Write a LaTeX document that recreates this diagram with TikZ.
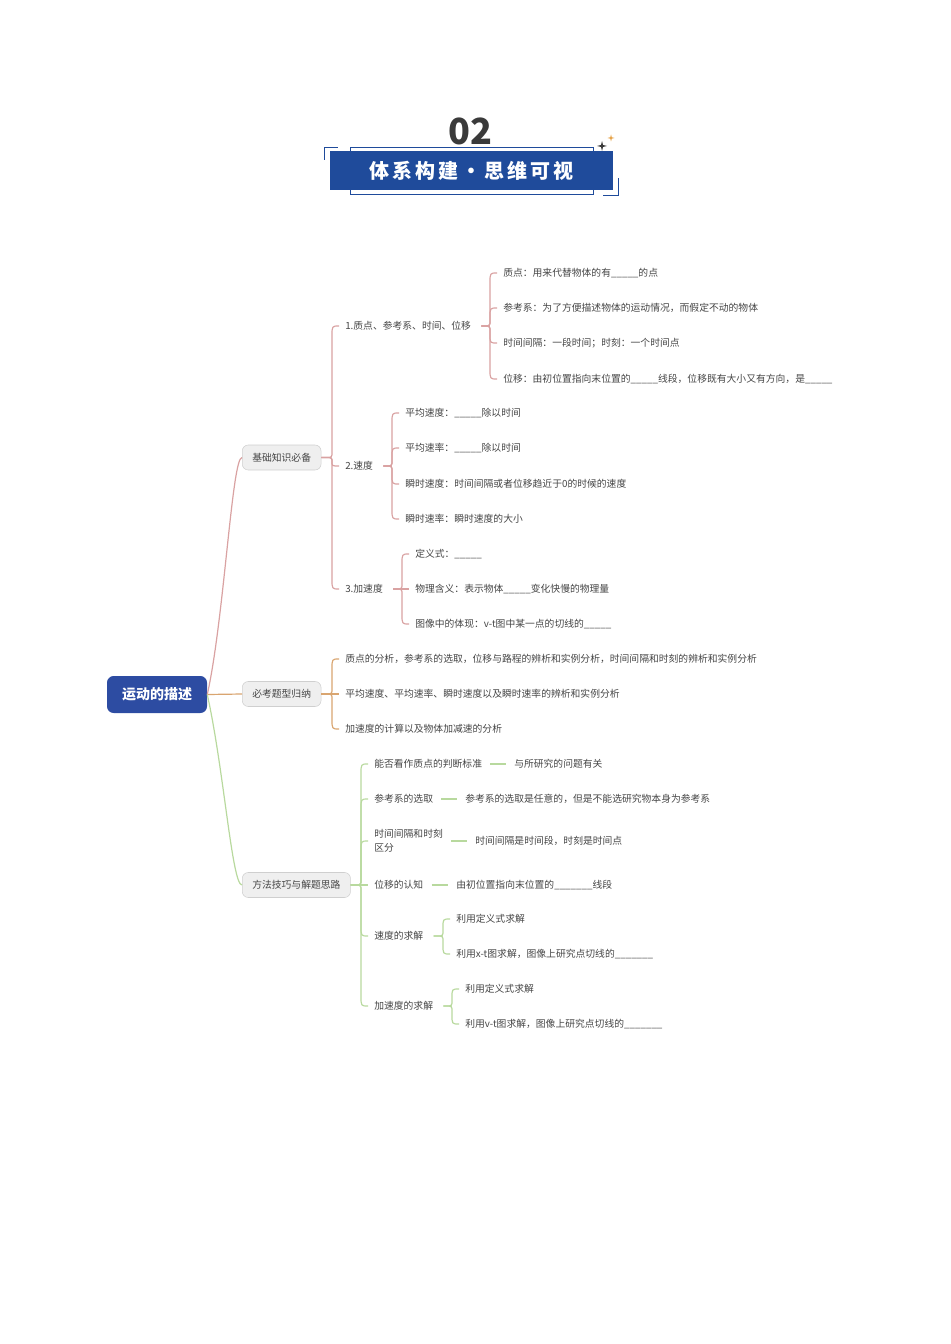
\documentclass[tikz,border=0pt]{standalone}
\usepackage{fontspec}
\setmainfont{Noto Sans CJK SC}
\usetikzlibrary{calc}
\definecolor{hdrblue}{HTML}{1F4B9B}
\definecolor{rootblue}{HTML}{2D4CA2}
\definecolor{ink}{HTML}{454545}
\definecolor{numgray}{HTML}{3A3A3A}
\definecolor{rose}{HTML}{D9A2A2}
\definecolor{tan}{HTML}{D9A570}
\definecolor{leaf}{HTML}{B8D99E}
\definecolor{boxgray}{HTML}{EFEFEF}
\definecolor{boxline}{HTML}{CFCFCF}
\definecolor{spark}{HTML}{E39B3A}

\begin{document}
\begin{tikzpicture}[
  x=0.75pt, y=-0.75pt,
  every node/.style={text=ink},
  txt/.style={anchor=west, inner sep=0pt, font=\fontsize{7.35}{10.5}\selectfont},
  topic/.style={anchor=west, draw=boxline, fill=boxgray, rounded corners=4.5pt,
                inner xsep=7.5pt, minimum height=18.75pt, font=\fontsize{7.35}{9}\selectfont},
  rootbox/.style={fill=rootblue, rounded corners=5pt, text=white, minimum width=75pt,
                  minimum height=27.75pt, font=\fontsize{10.5}{12}\selectfont\bfseries},
  titlebox/.style={fill=hdrblue, text=white, minimum width=212.25pt, minimum height=29.25pt,
                   font=\fontsize{15}{15}\selectfont\bfseries\addfontfeature{LetterSpace=15}},
  hdrline/.style={draw=hdrblue, line width=0.6pt},
  rosel/.style={draw=rose, line width=0.9pt},
  tanl/.style={draw=tan, line width=0.9pt},
  leafl/.style={draw=leaf, line width=0.9pt},
  fromtext/.style={shorten <=7.5pt},
  dashlink/.style={shorten <=6pt, shorten >=6pt},
  bracelink/.style={to path={
    let \p1=(\tikztostart), \p2=(\tikztotarget),
        \n1={((\y2>\y1)*2-1)*min(4.5,abs(\y2-\y1)/2)},
        \n2={((\y2>\y1)*2-1)*min(7.5,abs(\y2-\y1)/2)} in
    -- (\x2-14.25pt,\y1)
    .. controls (\x2-9.75pt,\y1) .. (\x2-9.75pt,\y1+\n1*1pt)
    -- (\x2-9.75pt,\y2-\n2*1pt)
    .. controls (\x2-9.75pt,\y2) .. (\x2-4.5pt,\y2)}},
]
  \useasboundingbox (0,0) rectangle (950,1344);

  % Header
  \draw[hdrline] (350,147) rectangle (593,194);
  \node[titlebox] (ttl) at (471.5,170.5) {体系构建・思维可视};
  \node[text=numgray, font=\fontsize{27}{27}\selectfont\bfseries] (num) at (470,131) {02};
  \draw[hdrline] (324,160) |- (338,147);
  \draw[hdrline] (603,195) -| (618,178);
  \fill[numgray] (602,141) -- (603,145) -- (607,146) -- (603,147) -- (602,151)
                 -- (601,147) -- (597,146) -- (601,145) -- cycle;
  \fill[spark] (611,134.5) -- (611.7,137.3) -- (614.5,138) -- (611.7,138.7) -- (611,141.5)
               -- (610.3,138.7) -- (607.5,138) -- (610.3,137.3) -- cycle;

  % Central topic and main branches
  \node[rootbox] (root) at (157,694.5) {运动的描述};
  \node[topic] (b1) at (242,457.5) {基础知识必备};
  \node[topic] (b2) at (242,694) {必考题型归纳};
  \node[topic] (b3) at (242,885) {方法技巧与解题思路};

  % Basic knowledge
  \node[txt] (q1) at (345,326) {1.质点、参考系、时间、位移};
  \node[txt] (q2) at (345,466) {2.速度};
  \node[txt] (q3) at (345,589) {3.加速度};
  \node[txt] (q1a) at (503,273) {质点：用来代替物体的有\_\_\_\_\_的点};
  \node[txt] (q1b) at (503,308) {参考系：为了方便描述物体的运动情况，而假定不动的物体};
  \node[txt] (q1c) at (503,343) {时间间隔：一段时间；时刻：一个时间点};
  \node[txt] (q1d) at (503,379) {位移：由初位置指向末位置的\_\_\_\_\_线段，位移既有大小又有方向，是\_\_\_\_\_};
  \node[txt] (q2a) at (405,413) {平均速度：\_\_\_\_\_除以时间};
  \node[txt] (q2b) at (405,448) {平均速率：\_\_\_\_\_除以时间};
  \node[txt] (q2c) at (405,484) {瞬时速度：时间间隔或者位移趋近于0的时候的速度};
  \node[txt] (q2d) at (405,519) {瞬时速率：瞬时速度的大小};
  \node[txt] (q3a) at (415,554) {定义式：\_\_\_\_\_};
  \node[txt] (q3b) at (415,589) {物理含义：表示物体\_\_\_\_\_变化快慢的物理量};
  \node[txt] (q3c) at (415,624) {图像中的体现：v-t图中某一点的切线的\_\_\_\_\_};

  % Typical problems
  \node[txt] (t1) at (345,659) {质点的分析，参考系的选取，位移与路程的辨析和实例分析，时间间隔和时刻的辨析和实例分析};
  \node[txt] (t2) at (345,694) {平均速度、平均速率、瞬时速度以及瞬时速率的辨析和实例分析};
  \node[txt] (t3) at (345,729) {加速度的计算以及物体加减速的分析};

  % Methods
  \node[txt] (m1) at (374,764) {能否看作质点的判断标准};
  \node[txt] (m1r) at (514,764) {与所研究的问题有关};
  \node[txt] (m2) at (374,799) {参考系的选取};
  \node[txt] (m2r) at (465,799) {参考系的选取是任意的，但是不能选研究物本身为参考系};
  \node[txt, align=left] (m3) at (374,841) {时间间隔和时刻\\区分};
  \node[txt] (m3r) at (475,841) {时间间隔是时间段，时刻是时间点};
  \node[txt] (m4) at (374,885) {位移的认知};
  \node[txt] (m4r) at (456,885) {由初位置指向末位置的\_\_\_\_\_\_\_线段};
  \node[txt] (m5) at (374,936) {速度的求解};
  \node[txt] (m5a) at (456,919) {利用定义式求解};
  \node[txt] (m5b) at (456,954) {利用x-t图求解，图像上研究点切线的\_\_\_\_\_\_\_};
  \node[txt] (m6) at (374,1006) {加速度的求解};
  \node[txt] (m6a) at (465,989) {利用定义式求解};
  \node[txt] (m6b) at (465,1024) {利用v-t图求解，图像上研究点切线的\_\_\_\_\_\_\_};

  % Connectors
  \draw[rosel] (root.east) .. controls (224,620) and (232,457) .. (b1.west);
  \draw[tanl] (root.east) -- (b2.west);
  \draw[leafl] (root.east) .. controls (224,770) and (232,885) .. (b3.west);
  \foreach \c in {q1,q2,q3} \draw[rosel] (b1.east) to[bracelink] (\c.west);
  \foreach \c in {q1a,q1b,q1c,q1d} \draw[rosel, fromtext] (q1.east) to[bracelink] (\c.west);
  \foreach \c in {q2a,q2b,q2c,q2d} \draw[rosel, fromtext] (q2.east) to[bracelink] (\c.west);
  \foreach \c in {q3a,q3b,q3c} \draw[rosel, fromtext] (q3.east) to[bracelink] (\c.west);
  \foreach \c in {t1,t2,t3} \draw[tanl] (b2.east) to[bracelink] (\c.west);
  \foreach \c in {m1,m2,m3,m4,m5,m6} \draw[leafl] (b3.east) to[bracelink] (\c.west);
  \foreach \c in {m5a,m5b} \draw[leafl, fromtext] (m5.east) to[bracelink] (\c.west);
  \foreach \c in {m6a,m6b} \draw[leafl, fromtext] (m6.east) to[bracelink] (\c.west);
  \foreach \c in {m1,m2,m3,m4} \draw[leafl, dashlink] (\c.east) -- (\c r.west);
\end{tikzpicture}
\end{document}
